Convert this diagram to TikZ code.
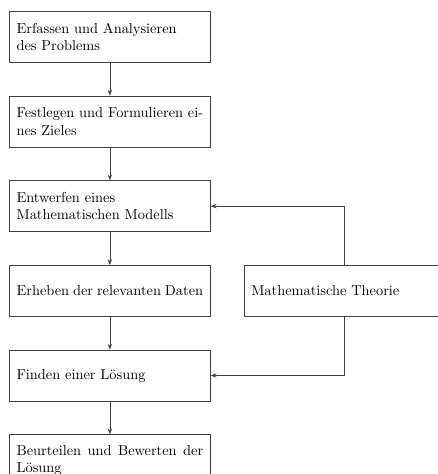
\documentclass[tikz,border=0pt]{standalone}
\usepackage{tikz}
\usetikzlibrary{arrows.meta,positioning,calc}

\begin{document}
\begin{tikzpicture}[
  stepbox/.style={rectangle, draw=black!75, line width=0.5pt, text width=129.6pt,
    inner xsep=5pt, minimum height=35.4pt, align=justify},
  arr/.style={-{Stealth[length=4pt,width=3pt]}, line width=0.5pt, black!75}
]
\node[stepbox] (b1) {Erfassen und Analysieren\\des Problems};
\node[stepbox, below=22.9pt of b1] (b2) {Festlegen und Formulieren ei\-nes Zieles};
\node[stepbox, below=22.9pt of b2] (b3) {Entwerfen eines\\Mathematischen Modells};
\node[stepbox, below=22.9pt of b3] (b4) {Erheben der relevanten Daten};
\node[stepbox, below=22.9pt of b4] (b5) {Finden einer L\"osung};
\node[stepbox, below=22.9pt of b5] (b6) {Beurteilen und Bewerten der L\"osung};
\node[stepbox, right=22.9pt of b4] (theo) {Mathematische Theorie};

\foreach \a/\b in {b1/b2,b2/b3,b3/b4,b4/b5,b5/b6} {
  \draw[arr] (\a) -- (\b);
}
\draw[arr] (theo.north) |- (b3.east);
\draw[arr] (theo.south) |- (b5.east);

% crop to the reference frame
\pgfresetboundingbox
\useasboundingbox ($(b1.north west)+(-6.25pt,7.64pt)$) rectangle ++(303.5pt,-329.2pt);
\end{tikzpicture}
\end{document}
